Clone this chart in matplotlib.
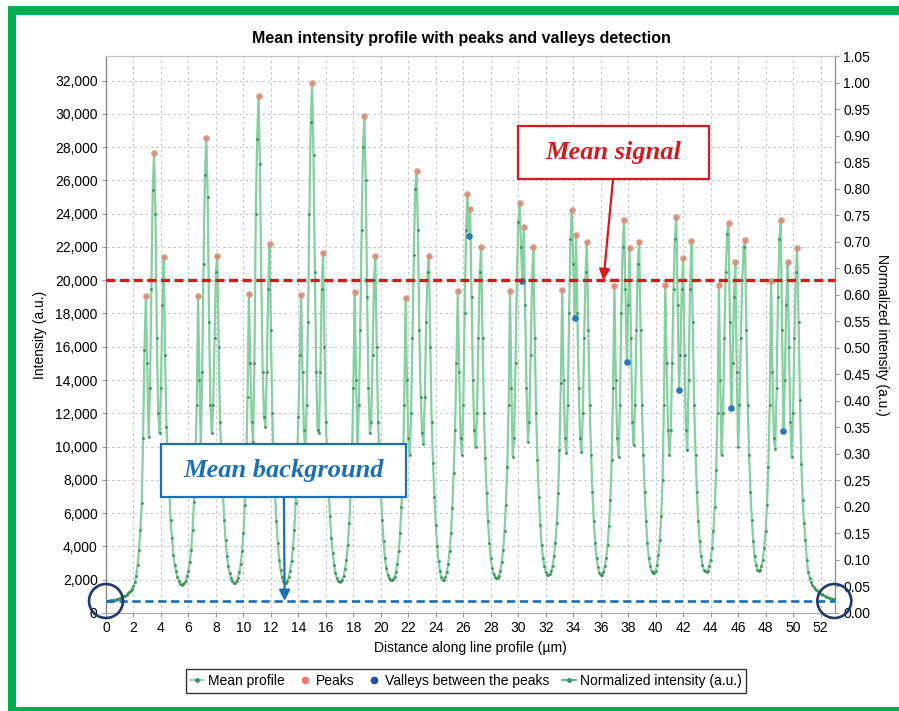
import numpy as np
import matplotlib.pyplot as plt
from matplotlib.patches import Rectangle, Ellipse
from matplotlib.lines import Line2D
from matplotlib.ticker import MultipleLocator, FuncFormatter

plt.rcParams['font.family'] = ['Liberation Sans', 'DejaVu Sans']
plt.rcParams['lines.scale_dashes'] = False

# mean intensity along the line, one sample every 0.1 um (0.0 .. 53.0 um)
step = 0.1
profile = [
    720, 730, 740, 750, 765, 780, 795, 810, 830, 850,
    880, 910, 950, 1000, 1050, 1110, 1180, 1260, 1350, 1450,
    1600, 1850, 2250, 2900, 3800, 5000, 6600, 10500, 15800, 19060,
    15000, 10600, 13500, 19500, 25400, 27640, 24000, 16500, 12000, 10800,
    13500, 18500, 21380, 15500, 11200, 9300, 7700, 5600, 4500, 3500,
    2900, 2500, 2150, 1900, 1750, 1690, 1720, 1800, 1950, 2200,
    2550, 3050, 3800, 5000, 6700, 8600, 12500, 19040, 14000, 10000,
    14500, 21000, 26300, 28520, 25000, 17500, 12500, 10800, 12500, 16500,
    20500, 21480, 16000, 11500, 9300, 7500, 5600, 4400, 3400, 2800,
    2400, 2100, 1900, 1780, 1800, 1900, 2100, 2450, 2950, 3700,
    4800, 6500, 8800, 13000, 19200, 15000, 11500, 10300, 15000, 24000,
    28500, 31080, 27000, 20000, 14500, 11800, 11200, 14500, 19500, 22160,
    17000, 12000, 9300, 7300, 5500, 4200, 3200, 2600, 2150, 1900,
    1780, 1800, 1900, 2150, 2550, 3100, 3900, 5000, 6600, 8800,
    11800, 15500, 19140, 14500, 11000, 9700, 12500, 17500, 24000, 29500,
    31880, 27500, 20500, 14500, 11000, 10800, 14500, 19500, 21620, 16000,
    11500, 9300, 7500, 5800, 4500, 3600, 2900, 2400, 2100, 1950,
    1880, 1900, 2000, 2250, 2650, 3200, 4100, 5400, 7200, 9500,
    13500, 19280, 14000, 9800, 12500, 17000, 23000, 28000, 29860, 26000,
    19000, 13500, 10800, 11500, 15500, 20000, 21440, 16000, 11500, 9200,
    7300, 5600, 4300, 3300, 2700, 2300, 2100, 2000, 1980, 2020,
    2150, 2450, 2950, 3700, 4800, 6400, 8600, 12500, 18940, 14000,
    10500, 9480, 12000, 16500, 21500, 25500, 26540, 23000, 17000, 13000,
    10800, 10180, 13000, 17500, 20500, 21480, 16000, 11500, 9000, 7000,
    5300, 4000, 3100, 2500, 2150, 1980, 2000, 2150, 2450, 2950,
    3700, 4800, 6300, 8400, 11000, 15000, 19380, 14500, 10500, 9500,
    12500, 18000, 23000, 25180, 22680, 24280, 19000, 14000, 11000, 10000,
    12000, 16500, 20500, 21980, 16500, 12000, 9300, 7200, 5500, 4200,
    3300, 2700, 2350, 2150, 2080, 2100, 2250, 2550, 3050, 3800,
    4900, 6500, 8800, 12500, 19380, 13500, 9400, 10500, 15000, 20000,
    23500, 24620, 22000, 19940, 23220, 18500, 13500, 10300, 11500, 15500,
    20000, 22020, 16500, 12000, 9200, 7000, 5300, 4100, 3300, 2800,
    2450, 2300, 2280, 2320, 2500, 2850, 3400, 4200, 5400, 7200,
    9800, 13800, 19420, 14000, 10500, 9600, 12500, 18000, 22500, 24200,
    21000, 17720, 22720, 18000, 13500, 10500, 9700, 12000, 16500, 20500,
    22280, 17000, 12500, 9500, 7300, 5500, 4200, 3300, 2750, 2400,
    2280, 2300, 2450, 2800, 3300, 4100, 5200, 6800, 9200, 13500,
    19640, 14000, 10500, 9400, 12500, 18000, 22000, 23640, 19500, 15060,
    18500, 21940, 16500, 11500, 10100, 12500, 17000, 21000, 22320, 17000,
    12500, 9500, 7300, 5500, 4200, 3300, 2800, 2500, 2380, 2400,
    2550, 2900, 3500, 4400, 5800, 8000, 12500, 19720, 15000, 11000,
    9500, 11000, 15000, 19500, 22500, 23820, 18500, 13420, 15500, 19500,
    21320, 15500, 11000, 9780, 14000, 19500, 22340, 17500, 12500, 9500,
    7300, 5500, 4300, 3400, 2900, 2600, 2500, 2480, 2550, 2800,
    3200, 3900, 4900, 6400, 8600, 12000, 19720, 14000, 9480, 12000,
    16500, 20500, 22800, 23420, 17500, 12320, 15000, 19000, 21080, 14500,
    9980, 12500, 16500, 20000, 22000, 22420, 17000, 12500, 9500, 7300,
    5600, 4300, 3400, 2900, 2600, 2540, 2580, 2800, 3200, 3900,
    4900, 6500, 8800, 12500, 19940, 14500, 10500, 9880, 13500, 19000,
    22500, 23620, 17000, 10940, 14000, 18500, 21100, 16000, 11500, 9380,
    12000, 16500, 20500, 21960, 17500, 12780, 8980, 6780, 5380, 4380,
    3180, 2450, 2100, 1850, 1680, 1560, 1460, 1380, 1300, 1230,
    1170, 1120, 1070, 1030, 990, 950, 920, 890, 860, 840,
    820,
]

# detected peaks and the valleys found between close peaks (um)
peak_x = [2.9, 3.5, 4.2, 6.7, 7.3, 8.1, 10.4, 11.1, 11.9, 14.2, 15.0, 15.8,
          18.1, 18.8, 19.6, 21.8, 22.6, 23.5, 25.6, 26.3, 26.5, 27.3,
          29.4, 30.1, 30.4, 31.1, 33.2, 33.9, 34.2, 35.0, 37.0, 37.7, 38.1, 38.8,
          40.7, 41.5, 42.0, 42.6, 44.6, 45.3, 45.8, 46.5, 48.4, 49.1, 49.6, 50.3]
valley_x = [26.4, 30.3, 34.1, 37.9, 41.7, 45.5, 49.3]

mean_signal = 20000
mean_background = 720

profile = np.array(profile, dtype=float)
distance = np.arange(len(profile)) * step
normalized = profile / profile.max()
peak_idx = np.rint(np.array(peak_x) / step).astype(int)
valley_idx = np.rint(np.array(valley_x) / step).astype(int)

line_green = '#88d0a2'
dot_green = '#3b915c'
norm_green = '#3caf70'
peak_col = '#d9937f'
valley_col = '#2d79b8'
red = '#d51a1f'
blue = '#1c6fb5'
navy = '#1f3a6c'

W, H = 899, 711
fig = plt.figure(figsize=(W / 100, H / 100), dpi=100)
fig.patch.set_facecolor('white')


def px_rect(x0, y0, x1, y1, **kw):
    fig.patches.append(Rectangle((x0 / W, 1 - y1 / H), (x1 - x0) / W, (y1 - y0) / H,
                                 transform=fig.transFigure, **kw))


# green frame
frame = dict(facecolor='#00b050', edgecolor='none')
px_rect(8, 6, W, 15, **frame)
px_rect(8, 6, 16, H, **frame)
px_rect(8, 707, W, H, **frame)

ax = fig.add_axes([106 / W, 98 / H, 729 / W, 557 / H])
ax2 = ax.twinx()
ax.set_zorder(ax2.get_zorder() + 1)
ax.patch.set_visible(False)

ax2.plot(distance, normalized, '-', color=norm_green, lw=0.7, zorder=2)
ax.plot(distance, profile, '-', color=line_green, lw=1.6, marker='o', ms=2.0,
        mfc=dot_green, mec=dot_green, mew=0, zorder=3)
ax.plot(distance[peak_idx], profile[peak_idx], 'o', color=peak_col, ms=4.8,
        alpha=0.9, mew=0, zorder=4)
ax.plot(distance[valley_idx], profile[valley_idx], 'o', color=valley_col, ms=4.8,
        mew=0, zorder=4)

ax.axhline(mean_signal, color=red, lw=2.4, dashes=(6.5, 3.3), zorder=5)
ax.axhline(mean_background, color=blue, lw=1.9, dashes=(6.0, 3.3), zorder=5)

ymax = 1.05 * profile.max()
ax.set_xlim(0, 53.05)
ax.set_ylim(0, ymax)
ax2.set_ylim(0, 1.05)

ax.xaxis.set_major_locator(MultipleLocator(2))
ax.yaxis.set_major_locator(MultipleLocator(2000))
ax.yaxis.set_major_formatter(FuncFormatter(lambda v, p: f'{v:,.0f}'))
ax2.set_yticks(np.round(np.arange(0, 1.0501, 0.05), 2))
ax2.yaxis.set_major_formatter(FuncFormatter(lambda v, p: f'{v:.2f}'))

ax.grid(True, color='#c8c8c8', linestyle=(0, (2, 2)), linewidth=0.7)
ax.set_axisbelow(True)

for a in (ax, ax2):
    a.tick_params(labelsize=10, length=3, color='#999999', pad=3)
    a.spines['top'].set_color('#c4c4c4')
    a.spines['left'].set_color('#7f7f7f')
    a.spines['right'].set_color('#8a8a8a')
    a.spines['bottom'].set_color('#a8a8a8')

ax.set_xlabel('Distance along line profile (µm)', fontsize=10, labelpad=4)
ax.set_ylabel('Intensity (a.u.)', fontsize=10, labelpad=6)
ax2.set_ylabel('Normalized intensity (a.u.)', fontsize=10, rotation=270, labelpad=13)
fig.text(461 / W, 1 - 39 / H, 'Mean intensity profile with peaks and valleys detection',
         ha='center', va='center', fontsize=11.5, fontweight='bold')

# annotation boxes
ax.add_patch(Rectangle((0.565, 0.779), 0.262, 0.095, transform=ax.transAxes,
                       facecolor='white', edgecolor=red, lw=1.6, zorder=8))
ax.text(0.696, 0.826, 'Mean signal', transform=ax.transAxes, ha='center', va='center',
        fontsize=19, fontweight='bold', fontstyle='italic', family='Liberation Serif',
        color=red, zorder=9)
ax.annotate('', xy=(36.2, mean_signal), xytext=(0.6955, 0.779), textcoords='axes fraction',
            arrowprops=dict(arrowstyle='-|>', color=red, lw=1.6, mutation_scale=16,
                            shrinkA=0, shrinkB=0), zorder=9)

ax.add_patch(Rectangle((0.0754, 0.208), 0.336, 0.095, transform=ax.transAxes,
                       facecolor='white', edgecolor=blue, lw=1.6, zorder=8))
ax.text(0.2435, 0.256, 'Mean background', transform=ax.transAxes, ha='center', va='center',
        fontsize=19, fontweight='bold', fontstyle='italic', family='Liberation Serif',
        color=blue, zorder=9)
ax.annotate('', xy=(13.0, mean_background), xytext=(0.244, 0.208), textcoords='axes fraction',
            arrowprops=dict(arrowstyle='-|>', color=blue, lw=1.6, mutation_scale=16,
                            shrinkA=0, shrinkB=0), zorder=9)

# circles around the profile ends
for xc in (distance[0], distance[-1]):
    ax.add_patch(Ellipse((xc, mean_background), width=2.47, height=2040, fill=False,
                         edgecolor=navy, lw=1.9, clip_on=False, zorder=10))

handles = [
    Line2D([], [], color=line_green, lw=1.2, marker='o', ms=2.5, mfc=dot_green, mec=dot_green),
    Line2D([], [], ls='', marker='o', color='#f07b70', ms=4.5),
    Line2D([], [], ls='', marker='o', color='#1f4f9f', ms=4.5),
    Line2D([], [], color=norm_green, lw=1.2, marker='o', ms=2.5, mfc=dot_green, mec=dot_green),
]
labels = ['Mean profile', 'Peaks', 'Valleys between the peaks', 'Normalized intensity (a.u.)']
leg = fig.legend(handles, labels, loc='center', bbox_to_anchor=(466 / W, 1 - 681 / H), ncol=4,
                 fontsize=10, frameon=True, fancybox=False, edgecolor='#333333', framealpha=1,
                 handlelength=1.0, handletextpad=0.3, columnspacing=0.9, borderpad=0.35)
leg.get_frame().set_linewidth(1.0)

fig.savefig('out.png', dpi=100)
